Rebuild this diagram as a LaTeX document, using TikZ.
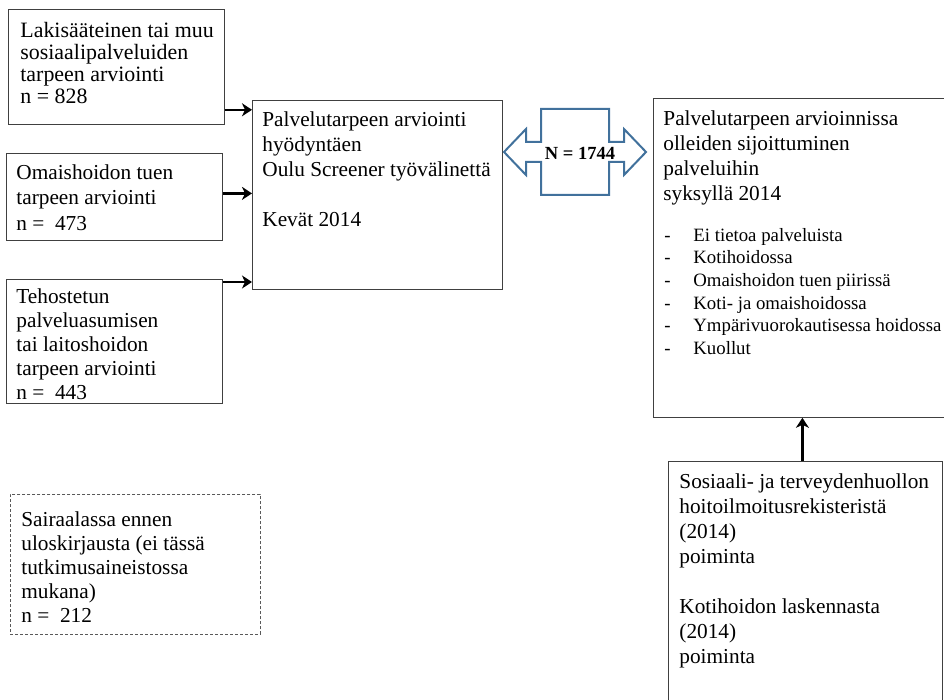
\documentclass[tikz,border=0pt]{standalone}
\usepackage{fontspec}
\setmainfont{Liberation Serif}
\usetikzlibrary{
    arrows.meta,
    calc
}
\definecolor{calloutblue}{RGB}{65,113,156}
\newcommand{\boxtext}[4]{\parbox[t][#2][t]{#1}{\rule{0pt}{#3}#4}}
\newcommand{\listdash}{\makebox[30pt][l]{\hspace{1pt}-}}
\tikzset {
    plain box/.style = {draw = black!75, line width = 0.8pt, anchor = north west, inner xsep = 10pt, inner ysep = 0pt},
    dashed box/.style = {plain box, draw = black!65, dash pattern = on 3pt off 2pt},
    main font/.style = {font = \fontsize{21.3}{#1}\selectfont},
    flow arrow/.style = {line width = 2.5pt, -{Stealth[length = 10pt, width = 13pt, inset = 3pt]}},
    callout/.style = {draw = calloutblue, line width = 2pt, line join = miter}
}

\begin{document}
\begin{tikzpicture}[x = 1pt, y = -1pt]
    \useasboundingbox (0, 0) rectangle (944, 700);
    \clip (0, 0) rectangle (944, 700);
    % left column
    \node (lak) [plain box, inner xsep = 12pt, font = \fontsize{21.9}{22}\selectfont] at (8, 9)
        {\boxtext{192pt}{115pt}{28pt}{\mbox{Lakisääteinen tai muu}\\ sosiaalipalveluiden\\ tarpeen arviointi\\ n = 828}};
    \node (omai) [plain box, main font = 25.5] at (6, 153)
        {\boxtext{196pt}{87pt}{26pt}{Omaishoidon tuen\\ tarpeen arviointi\\ n =\ \ 473}};
    \node (teho) [plain box, main font = 24] at (6, 279)
        {\boxtext{196pt}{124pt}{24pt}{Tehostetun\\ palveluasumisen\\ tai laitoshoidon\\ tarpeen arviointi\\ n =\ \ 443}};
    \node (sair) [dashed box, inner xsep = 11pt, main font = 24] at (10, 494)
        {\boxtext{228pt}{140pt}{32pt}{Sairaalassa ennen\\ uloskirjausta (ei tässä\\ tutkimusaineistossa\\ mukana)\\ n =\ \ 212}};
    % middle
    \node (arv) [plain box, main font = 25] at (252, 100)
        {\boxtext{230pt}{189pt}{26pt}{Palvelutarpeen arviointi\\ hyödyntäen\\ \mbox{Oulu Screener työvälinettä}\\[25pt] Kevät 2014}};
    % right column
    \node (sijo) [plain box, main font = 25] at (653, 98)
        {\boxtext{271pt}{319pt}{27pt}{Palvelutarpeen arvioinnissa\\ olleiden sijoittuminen\\ palveluihin\\ syksyllä 2014\par
        \fontsize{18.8}{22.6}\selectfont\vspace{18.4pt}
        \listdash Ei tietoa palveluista\\
        \listdash Kotihoidossa\\
        \listdash Omaishoidon tuen piirissä\\
        \listdash Koti- ja omaishoidossa\\
        \mbox{\listdash Ympärivuorokautisessa hoidossa}\\
        \listdash Kuollut}};
    \node (poim) [plain box, inner xsep = 11pt, main font = 25] at (668, 461)
        {\boxtext{252pt}{260pt}{27pt}{\mbox{Sosiaali- ja terveydenhuollon}\\ hoitoilmoitusrekisteristä\\ (2014)\\ poiminta\\[25pt] Kotihoidon laskennasta\\ (2014)\\ poiminta}};
    % arrows
    \draw [flow arrow] ([yshift = 15pt] lak.south east) -- ([yshift = 15pt] lak.south east -| arv.west);
    \draw [flow arrow] ([yshift = 3.5pt] omai.east) -- ([yshift = 3.5pt] omai.east -| arv.west);
    \draw [flow arrow] ([yshift = -3pt] teho.north east) -- ([yshift = -3pt] teho.north east -| arv.west);
    \draw [flow arrow, line width = 2.8pt] ([xshift = -3pt] poim.north) -- ([xshift = -3pt] poim.north |- sijo.south);
    % double arrow callout
    \coordinate (nmid) at (575, 152);
    \draw [callout] ($(nmid) + (-71, 0)$) -- ++(22, -23) -- ++(0, 13) -- ++(15, 0) -- ++(0, -33)
        -- ++(68, 0) -- ++(0, 33) -- ++(15, 0) -- ++(0, -13) -- ++(22, 23) -- ++(-22, 23)
        -- ++(0, -13) -- ++(-15, 0) -- ++(0, 33) -- ++(-68, 0) -- ++(0, -33) -- ++(-15, 0)
        -- ++(0, 13) -- cycle;
    \node (ncount) [font = \bfseries\fontsize{18.5}{20}\selectfont] at ($(nmid) + (5, 1)$) {N = 1744};
\end{tikzpicture}
\end{document}
